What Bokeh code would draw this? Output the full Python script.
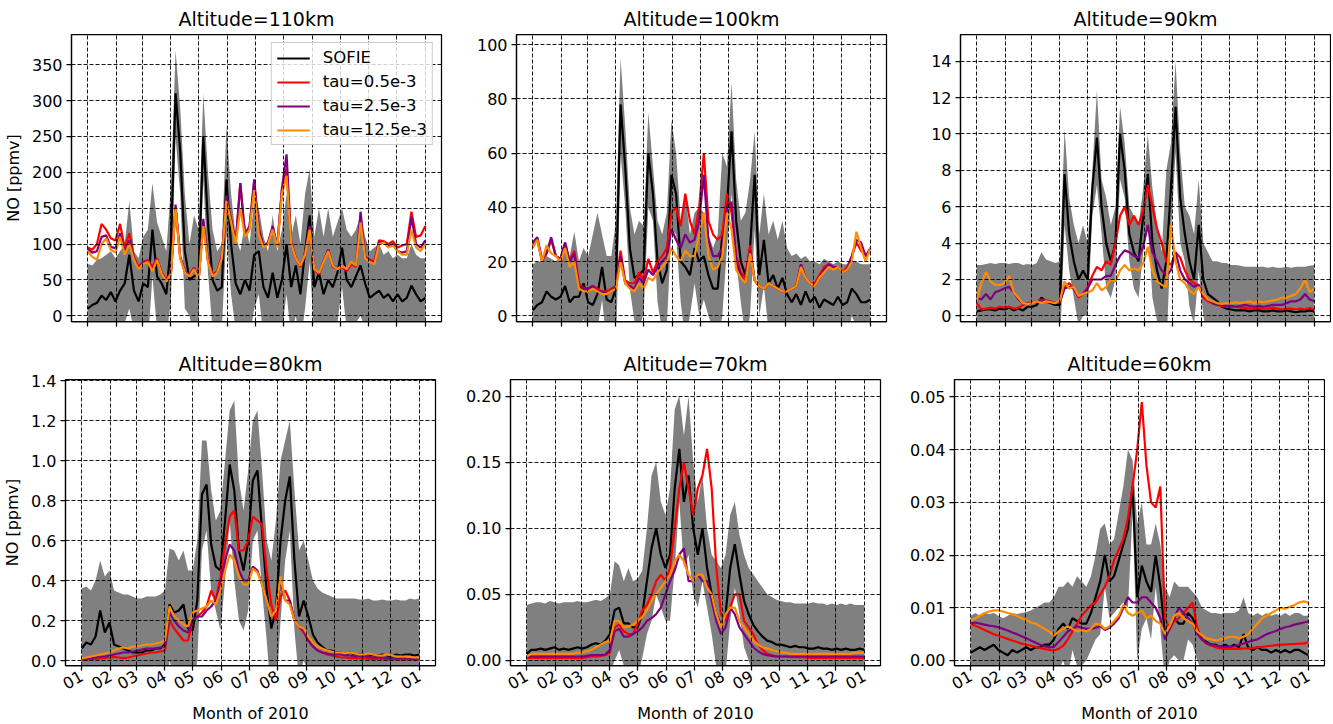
import math
from bokeh.plotting import figure
from bokeh.layouts import column, row
from bokeh.models import FixedTicker, PrintfTickFormatter, Range1d
from bokeh.embed import file_html
from bokeh.resources import INLINE

FONT = "DejaVu Sans"

# day of year 2010 (sampled every 5 days, 0 = 1 Jan 2010, 365 = 1 Jan 2011)
days = list(range(0, 366, 5))
month_ticks = [0, 31, 59, 90, 120, 151, 181, 212, 243, 273, 304, 334, 365]
month_labels = ["01", "02", "03", "04", "05", "06", "07", "08", "09", "10", "11", "12", "01"]
series_names = ["SOFIE", "tau=0.5e-3", "tau=2.5e-3", "tau=12.5e-3"]

# ---------------- 110 km ----------------
sofie_110 = [10, 15, 18, 28, 22, 33, 20, 35, 45, 85,
             35, 20, 45, 40, 120, 55, 45, 30, 100, 310,
             230, 90, 50, 55, 60, 250, 130, 50, 35, 40,
             190, 100, 45, 30, 50, 35, 85, 90, 40, 25,
             60, 25, 50, 100, 40, 70, 30, 90, 140, 40,
             60, 30, 50, 40, 60, 95, 50, 40, 55, 70,
             45, 25, 30, 35, 25, 30, 20, 30, 20, 25,
             42, 30, 20, 25]
tau05_110 = [95, 92, 100, 128, 120, 108, 105, 128, 95, 115,
             82, 68, 75, 78, 68, 80, 60, 50, 60, 150,
             82, 62, 57, 67, 52, 130, 78, 57, 62, 82,
             165, 135, 102, 185, 112, 125, 185, 122, 97, 102,
             122, 97, 175, 205, 102, 80, 68, 85, 125, 64,
             58, 75, 92, 68, 65, 68, 62, 72, 68, 135,
             82, 78, 76, 105, 104, 100, 104, 95, 98, 100,
             145, 110, 112, 125]
tau25_110 = [93, 88, 90, 110, 112, 96, 94, 115, 88, 105,
             80, 66, 74, 76, 64, 79, 58, 48, 59, 155,
             82, 61, 56, 66, 51, 135, 77, 56, 61, 82,
             168, 133, 101, 185, 112, 125, 190, 120, 96, 102,
             125, 97, 178, 225, 102, 80, 70, 86, 125, 65,
             60, 76, 92, 70, 66, 70, 64, 74, 70, 145,
             81, 76, 74, 103, 102, 97, 100, 90, 88, 90,
             138, 100, 95, 105]
tau125_110 = [90, 82, 78, 100, 108, 92, 88, 110, 85, 100,
              78, 65, 72, 75, 62, 78, 58, 48, 58, 150,
              80, 60, 55, 65, 50, 125, 75, 55, 60, 80,
              160, 130, 100, 150, 110, 120, 175, 113, 95, 100,
              120, 95, 170, 195, 100, 80, 70, 85, 120, 65,
              60, 75, 90, 70, 65, 70, 65, 75, 70, 130,
              80, 75, 72, 100, 102, 95, 98, 90, 85, 85,
              120, 95, 90, 100]
hi_110 = [72, 70, 78, 80, 85, 90, 80, 90, 100, 160,
          90, 80, 110, 120, 185, 130, 110, 90, 180, 370,
          290, 170, 100, 140, 120, 310, 200, 120, 90, 100,
          265, 170, 110, 90, 130, 100, 160, 150, 110, 90,
          140, 90, 120, 170, 110, 140, 100, 170, 205, 110,
          150, 110, 150, 110, 130, 150, 120, 110, 120, 140,
          110, 90, 95, 100, 85, 90, 80, 85, 80, 80,
          100, 85, 80, 80]
lo_110 = [-50, -40, -42, -24, -41, -24, -40, -20, -10, 10,
          -20, -40, -20, -40, 55, -20, -20, -30, 20, 250,
          170, 10, 0, -30, 0, 190, 60, -20, -20, -20,
          115, 30, -20, -30, -30, -30, 10, 30, -30, -40,
          -20, -40, -20, 30, -30, 0, -40, 10, 75, -30,
          -30, -50, -50, -30, -10, 40, -20, -30, -10, 0,
          -20, -40, -35, -30, -35, -30, -40, -25, -40, -30,
          -16, -25, -40, -30]

# ---------------- 100 km ----------------
sofie_100 = [2, 4, 5, 9, 7, 6, 7, 11, 5, 7,
             7, 12, 5, 4, 8, 18, 6, 5, 10, 78,
             55, 25, 14, 15, 17, 60, 45, 20, 12, 17,
             52, 45, 20, 18, 15, 25, 20, 22, 15, 10,
             10, 30, 40, 68, 35, 20, 15, 25, 52, 15,
             28, 12, 15, 10, 14, 8, 5, 8, 4, 9,
             5, 7, 3, 6, 5, 4, 7, 4, 5, 10,
             8, 5, 5, 6]
tau05_100 = [26, 28, 20, 23, 28, 22, 21, 27, 20, 24,
             12, 10, 10, 11, 10, 9, 9, 10, 11, 24,
             13, 12, 12, 16, 13, 21, 16, 20, 22, 25,
             38, 40, 33, 45, 35, 30, 40, 60, 35, 30,
             28, 30, 45, 38, 22, 16, 14, 26, 13, 11,
             10, 12, 11, 10, 9, 9, 10, 11, 19, 14,
             12, 12, 15, 18, 19, 18, 18, 16, 18, 22,
             27, 24, 22, 24]
tau25_100 = [27, 29, 21, 23, 29, 22, 21, 27, 20, 23,
             11, 10, 10, 11, 9, 9, 8, 9, 11, 22,
             12, 11, 10, 14, 12, 17, 15, 18, 20, 22,
             32, 28, 25, 30, 27, 28, 35, 52, 28, 22,
             22, 25, 40, 42, 20, 15, 12, 24, 13, 11,
             10, 12, 11, 10, 9, 9, 10, 11, 19, 14,
             12, 11, 14, 17, 19, 18, 18, 16, 17, 22,
             28, 27, 22, 25]
tau125_100 = [25, 28, 20, 26, 23, 22, 20, 25, 18, 20,
              10, 9, 9, 10, 9, 8, 8, 9, 10, 20,
              12, 10, 9, 12, 10, 14, 13, 16, 18, 20,
              25, 22, 20, 24, 22, 22, 30, 38, 22, 17,
              18, 22, 38, 32, 17, 14, 12, 23, 13, 11,
              10, 12, 11, 10, 9, 9, 10, 11, 18, 14,
              12, 11, 14, 16, 18, 17, 18, 16, 17, 20,
              31, 25, 20, 25]
hi_100 = [19, 20, 20, 22, 21, 20, 22, 25, 22, 31,
          20, 25, 22, 30, 38, 30, 22, 22, 35, 95,
          70, 40, 30, 35, 33, 75, 55, 35, 30, 38,
          72, 60, 35, 45, 30, 38, 40, 38, 30, 25,
          30, 60, 55, 86, 50, 35, 38, 50, 68, 30,
          45, 30, 35, 28, 35, 25, 22, 23, 21, 22,
          20, 20, 19, 21, 20, 19, 20, 19, 19, 20,
          20, 19, 19, 19]
lo_100 = [-15, -12, -10, -4, -7, -8, -8, -3, -12, -17,
          -6, -1, -12, -22, -5, 6, -10, -12, -15, 60,
          40, 10, -2, -5, 1, 40, 35, 5, -6, -4,
          32, 30, 5, -9, 0, 12, 0, 6, 0, -5,
          -10, 0, 25, 45, 20, 5, -8, 0, 32, 0,
          11, -6, -5, -8, -7, -9, -12, -7, -13, -4,
          -10, -6, -13, -9, -10, -11, -6, -11, -9, 0,
          -4, -9, -9, -7]

# ---------------- 90 km ----------------
sofie_90 = [0.25, 0.3, 0.35, 0.35, 0.3, 0.4, 0.35, 0.45, 0.3, 0.4,
            0.3, 0.5, 0.5, 0.6, 1.0, 0.8, 0.7, 0.6, 0.6, 7.8,
            4.5, 3.0, 2.0, 2.5, 2.0, 7.0, 9.8, 6.0, 4.0, 3.0,
            4.0, 10.0, 8.0, 4.5, 3.5, 3.0, 5.5, 7.8, 4.0, 2.5,
            1.5, 3.0, 7.0, 11.5, 6.5, 4.5, 3.0, 2.0, 5.0, 2.0,
            1.2, 1.0, 0.8, 0.5, 0.4, 0.35, 0.3, 0.3, 0.3, 0.25,
            0.3, 0.3, 0.25, 0.25, 0.3, 0.25, 0.25, 0.3, 0.25, 0.2,
            0.25, 0.25, 0.3, 0.25]
tau05_90 = [0.7, 0.35, 0.4, 0.45, 0.4, 0.5, 0.45, 0.5, 0.4, 0.45,
            0.6, 0.7, 0.75, 0.8, 0.9, 0.85, 0.8, 0.7, 0.75, 1.6,
            1.8, 1.5, 1.0, 1.2, 1.6, 2.2, 2.7, 2.5, 3.0, 2.8,
            4.0, 5.5, 6.0, 5.0, 5.5, 5.0, 5.8, 7.2, 6.0, 4.8,
            4.0, 3.0, 2.8, 3.5, 3.2, 2.5, 2.0, 1.8, 1.7, 1.0,
            0.8, 0.7, 0.6, 0.55, 0.5, 0.5, 0.5, 0.45, 0.45, 0.4,
            0.4, 0.45, 0.4, 0.4, 0.45, 0.4, 0.35, 0.4, 0.4, 0.35,
            0.4, 0.35, 0.45, 0.35]
tau25_90 = [1.0, 0.9, 1.2, 0.9, 1.3, 1.4, 1.5, 1.6, 1.3, 0.9,
            0.7, 0.65, 0.7, 0.8, 0.85, 0.8, 0.75, 0.7, 0.8, 1.5,
            1.6, 1.5, 1.1, 1.2, 1.5, 2.0, 2.0, 2.0, 2.2, 2.2,
            2.8, 3.3, 3.6, 3.5, 3.3, 3.2, 3.8, 5.0, 3.5, 3.0,
            2.5, 2.2, 2.5, 3.5, 2.5, 2.0, 1.8, 1.6, 1.7, 1.1,
            0.9, 0.7, 0.6, 0.6, 0.55, 0.55, 0.5, 0.55, 0.6, 0.55,
            0.5, 0.55, 0.5, 0.55, 0.6, 0.6, 0.6, 0.7, 0.8, 0.8,
            0.9, 1.2, 0.9, 0.8]
tau125_90 = [0.8, 1.8, 2.4, 1.9, 1.7, 1.7, 1.8, 2.2, 1.3, 1.0,
             0.7, 0.65, 0.7, 0.8, 0.7, 0.8, 0.75, 0.7, 0.85, 1.9,
             1.5, 1.6, 1.1, 1.2, 1.3, 1.4, 1.8, 1.4, 1.6, 2.0,
             1.9, 2.5, 2.8, 2.5, 2.6, 2.5, 2.9, 3.8, 2.5, 1.9,
             1.7, 1.6, 5.0, 3.0, 2.0, 1.8, 1.4, 1.2, 1.6, 1.2,
             0.9, 0.8, 0.7, 0.65, 0.7, 0.7, 0.75, 0.7, 0.75, 0.8,
             0.7, 0.8, 0.75, 0.8, 0.85, 0.9, 1.0, 1.0, 1.1, 1.2,
             1.5, 2.0, 1.3, 1.5]
hi_90 = [2.8, 2.8, 2.85, 2.9, 2.85, 2.9, 2.9, 2.85, 2.9, 2.9,
         2.8, 2.85, 2.8, 2.9, 3.5, 3.1, 3.0, 2.9, 3.0, 10.3,
         6.5, 5.0, 4.0, 5.0, 4.0, 8.0, 12.4, 7.5, 6.5, 5.0,
         6.0, 11.5, 9.5, 6.0, 5.5, 5.0, 7.0, 10.0, 7.0, 5.0,
         3.5, 8.0, 9.5, 14.0, 9.0, 6.0, 5.5, 4.5, 7.5, 4.0,
         3.5, 3.0, 3.0, 2.9, 2.9, 2.8, 2.8, 2.75, 2.7, 2.7,
         2.7, 2.7, 2.7, 2.65, 2.7, 2.65, 2.65, 2.7, 2.65, 2.7,
         2.7, 2.7, 2.75, 2.8]
lo_90 = [-2.3, -2.2, -2.15, -2.2, -2.25, -2.1, -2.2, -1.95, -2.3, -2.1,
         -2.2, -1.85, -1.8, -1.7, -1.5, -1.5, -1.6, -1.7, -1.8, 5.0,
         2.5, 1.0, -0.5, 0.0, 0.0, 5.5, 7.2, 4.5, 1.5, 1.0,
         2.0, 7.5, 6.5, 3.0, 1.5, 1.0, 3.5, 5.0, 1.0, -0.3,
         -0.5, -2.0, 4.5, 9.0, 4.0, 3.0, 0.5, -0.5, 2.5, 0.0,
         -1.1, -1.0, -1.4, -1.9, -2.1, -2.1, -2.2, -2.15, -2.1, -2.2,
         -2.1, -2.1, -2.2, -2.15, -2.1, -2.15, -2.15, -2.1, -2.15, -2.3,
         -2.2, -2.2, -2.15, -2.3]

# ---------------- 80 km ----------------
sofie_80 = [0.06, 0.09, 0.08, 0.12, 0.25, 0.14, 0.19, 0.08, 0.07, 0.06,
            0.05, 0.04, 0.04, 0.04, 0.05, 0.05, 0.06, 0.06, 0.08, 0.28,
            0.24, 0.25, 0.28, 0.16, 0.15, 0.3, 0.83, 0.88, 0.58, 0.47,
            0.45, 0.7, 0.98, 0.85, 0.55, 0.45, 0.6, 0.9, 0.95, 0.65,
            0.35, 0.16, 0.25, 0.6, 0.8, 0.92, 0.5, 0.22, 0.3, 0.22,
            0.13, 0.09, 0.07, 0.05, 0.05, 0.04, 0.04, 0.03, 0.04, 0.03,
            0.03, 0.03, 0.03, 0.025, 0.025, 0.03, 0.025, 0.02, 0.03, 0.025,
            0.03, 0.03, 0.025, 0.03]
tau05_80 = [0.005, 0.005, 0.006, 0.008, 0.01, 0.012, 0.015, 0.018, 0.015, 0.012,
            0.015, 0.02, 0.025, 0.03, 0.035, 0.04, 0.04, 0.045, 0.05, 0.2,
            0.16, 0.13, 0.1, 0.1, 0.2, 0.22, 0.24, 0.27, 0.35, 0.3,
            0.42, 0.58, 0.72, 0.75, 0.55, 0.55, 0.6, 0.72, 0.7, 0.68,
            0.45, 0.28, 0.2, 0.32, 0.35, 0.3, 0.2, 0.17, 0.14, 0.1,
            0.07, 0.05, 0.04, 0.03, 0.025, 0.02, 0.015, 0.015, 0.012, 0.012,
            0.01, 0.01, 0.008, 0.008, 0.007, 0.007, 0.006, 0.006, 0.005, 0.005,
            0.005, 0.005, 0.005, 0.005]
tau25_80 = [0.005, 0.008, 0.01, 0.015, 0.018, 0.02, 0.025, 0.03, 0.035, 0.04,
            0.04, 0.045, 0.05, 0.055, 0.06, 0.06, 0.06, 0.065, 0.07, 0.24,
            0.2, 0.17, 0.15, 0.14, 0.2, 0.22, 0.22, 0.25, 0.27, 0.3,
            0.38, 0.5, 0.58, 0.55, 0.45, 0.4, 0.4, 0.47, 0.45, 0.38,
            0.3, 0.22, 0.25, 0.4, 0.3, 0.3, 0.2, 0.17, 0.15, 0.1,
            0.07, 0.05, 0.04, 0.035, 0.03, 0.03, 0.03, 0.025, 0.025, 0.02,
            0.02, 0.02, 0.018, 0.015, 0.015, 0.015, 0.012, 0.012, 0.01, 0.01,
            0.01, 0.008, 0.008, 0.008]
tau125_80 = [0.01, 0.015, 0.02, 0.025, 0.03, 0.035, 0.04, 0.05, 0.06, 0.065,
             0.06, 0.07, 0.07, 0.075, 0.08, 0.08, 0.085, 0.09, 0.1, 0.27,
             0.22, 0.2, 0.18, 0.17, 0.24, 0.25, 0.26, 0.27, 0.3, 0.28,
             0.35, 0.45, 0.53, 0.5, 0.42, 0.38, 0.38, 0.46, 0.44, 0.38,
             0.3, 0.22, 0.25, 0.42, 0.3, 0.28, 0.2, 0.17, 0.16, 0.12,
             0.09, 0.07, 0.06, 0.05, 0.045, 0.04, 0.04, 0.035, 0.04, 0.035,
             0.03, 0.03, 0.035, 0.03, 0.025, 0.025, 0.03, 0.025, 0.02, 0.02,
             0.02, 0.018, 0.015, 0.015]
hi_80 = [0.36, 0.37, 0.35, 0.4, 0.5, 0.42, 0.45, 0.35, 0.34, 0.33,
         0.33, 0.32, 0.31, 0.31, 0.32, 0.32, 0.32, 0.33, 0.35, 0.56,
         0.55, 0.5, 0.55, 0.45, 0.45, 0.6, 1.1, 1.1, 0.85, 0.7,
         0.75, 1.0, 1.25, 1.3, 0.9, 0.75, 0.95, 1.2, 1.25, 0.95,
         0.6, 0.5, 0.7, 1.0, 1.1, 1.2, 0.85, 0.55, 0.6, 0.5,
         0.4, 0.36, 0.34, 0.33, 0.32, 0.31, 0.31, 0.31, 0.31, 0.31,
         0.305, 0.305, 0.31, 0.3, 0.3, 0.305, 0.3, 0.3, 0.305, 0.3,
         0.3, 0.31, 0.305, 0.31]
lo_80 = [-0.24, -0.19, -0.19, -0.16, -0.05, -0.14, -0.09, -0.19, -0.2, -0.21,
         -0.23, -0.24, -0.23, -0.23, -0.22, -0.22, -0.2, -0.21, -0.19, 0.0,
         -0.1, -0.05, -0.05, -0.13, -0.15, 0.0, 0.55, 0.65, 0.35, 0.25,
         0.15, 0.4, 0.7, 0.4, 0.2, 0.15, 0.25, 0.6, 0.65, 0.35,
         0.1, -0.2, -0.2, 0.2, 0.5, 0.65, 0.15, -0.1, 0.0, -0.06,
         -0.14, -0.18, -0.2, -0.23, -0.22, -0.23, -0.23, -0.25, -0.23, -0.25,
         -0.245, -0.245, -0.25, -0.25, -0.25, -0.245, -0.25, -0.26, -0.245, -0.25,
         -0.24, -0.25, -0.255, -0.25]

# ---------------- 70 km ----------------
sofie_70 = [0.005, 0.008, 0.008, 0.009, 0.008, 0.009, 0.01, 0.008, 0.009, 0.008,
            0.009, 0.01, 0.009, 0.01, 0.012, 0.013, 0.012, 0.015, 0.02, 0.038,
            0.04, 0.028, 0.028, 0.025, 0.025, 0.035, 0.06, 0.085, 0.1, 0.08,
            0.07, 0.08, 0.13, 0.16, 0.12, 0.14, 0.1, 0.08, 0.1, 0.07,
            0.05, 0.035, 0.027, 0.035, 0.07, 0.088, 0.065, 0.045, 0.035, 0.027,
            0.022, 0.018, 0.015, 0.014, 0.012, 0.012, 0.011, 0.01, 0.011, 0.01,
            0.01, 0.009, 0.009, 0.01, 0.009, 0.009, 0.008, 0.009, 0.008, 0.009,
            0.008, 0.008, 0.009, 0.008]
tau05_70 = [0.002, 0.002, 0.002, 0.002, 0.002, 0.002, 0.002, 0.002, 0.002, 0.002,
            0.002, 0.002, 0.002, 0.0025, 0.003, 0.003, 0.0035, 0.004, 0.006, 0.025,
            0.027, 0.022, 0.02, 0.02, 0.028, 0.038, 0.042, 0.05, 0.06, 0.065,
            0.06, 0.07, 0.1, 0.13, 0.15, 0.13, 0.11, 0.13, 0.14, 0.16,
            0.13, 0.07, 0.035, 0.03, 0.04, 0.05, 0.05, 0.03, 0.025, 0.02,
            0.012, 0.008, 0.005, 0.004, 0.003, 0.003, 0.003, 0.0025, 0.0025, 0.0025,
            0.0025, 0.002, 0.002, 0.002, 0.002, 0.002, 0.002, 0.002, 0.002, 0.002,
            0.002, 0.002, 0.002, 0.002]
tau25_70 = [0.003, 0.003, 0.003, 0.003, 0.003, 0.003, 0.003, 0.003, 0.003, 0.003,
            0.003, 0.003, 0.003, 0.0035, 0.004, 0.004, 0.004, 0.0045, 0.008, 0.022,
            0.024, 0.018, 0.018, 0.02, 0.022, 0.025, 0.03, 0.032, 0.035, 0.04,
            0.05, 0.06, 0.068, 0.08, 0.085, 0.06, 0.06, 0.065, 0.06, 0.06,
            0.045, 0.03, 0.02, 0.025, 0.04, 0.035, 0.025, 0.02, 0.015, 0.01,
            0.007, 0.005, 0.004, 0.0035, 0.003, 0.003, 0.003, 0.003, 0.003, 0.003,
            0.003, 0.003, 0.003, 0.003, 0.003, 0.003, 0.003, 0.003, 0.003, 0.003,
            0.003, 0.003, 0.003, 0.003]
tau125_70 = [0.003, 0.005, 0.005, 0.005, 0.005, 0.005, 0.005, 0.005, 0.005, 0.005,
             0.005, 0.006, 0.006, 0.007, 0.008, 0.01, 0.012, 0.014, 0.015, 0.03,
             0.03, 0.025, 0.026, 0.027, 0.03, 0.033, 0.038, 0.045, 0.05, 0.055,
             0.06, 0.065, 0.075, 0.08, 0.075, 0.065, 0.06, 0.065, 0.065, 0.055,
             0.05, 0.035, 0.025, 0.035, 0.04, 0.04, 0.03, 0.025, 0.02, 0.015,
             0.012, 0.01, 0.009, 0.008, 0.007, 0.006, 0.006, 0.005, 0.005, 0.005,
             0.005, 0.005, 0.005, 0.005, 0.005, 0.005, 0.005, 0.005, 0.005, 0.005,
             0.005, 0.006, 0.006, 0.006]
hi_70 = [0.042, 0.043, 0.044, 0.044, 0.043, 0.045, 0.044, 0.043, 0.044, 0.044,
         0.044, 0.045, 0.044, 0.044, 0.045, 0.046, 0.045, 0.047, 0.05, 0.075,
         0.072, 0.06, 0.07, 0.06, 0.062, 0.068, 0.1, 0.14, 0.15, 0.12,
         0.11, 0.13, 0.19, 0.2, 0.17, 0.2, 0.15, 0.12, 0.14, 0.1,
         0.08, 0.075, 0.07, 0.08, 0.11, 0.12, 0.095, 0.08, 0.07, 0.065,
         0.06, 0.055, 0.05, 0.048, 0.046, 0.045, 0.044, 0.044, 0.043, 0.043,
         0.043, 0.043, 0.044, 0.043, 0.043, 0.042, 0.043, 0.042, 0.043, 0.042,
         0.043, 0.042, 0.042, 0.042]
lo_70 = [-0.032, -0.027, -0.028, -0.026, -0.027, -0.027, -0.024, -0.027, -0.026, -0.028,
         -0.026, -0.025, -0.026, -0.024, -0.021, -0.02, -0.021, -0.017, -0.01, 0.0,
         0.008, -0.004, -0.014, -0.01, -0.012, 0.002, 0.02, 0.03, 0.05, 0.04,
         0.03, 0.03, 0.07, 0.12, 0.07, 0.08, 0.05, 0.04, 0.06, 0.04,
         0.02, -0.005, -0.016, -0.01, 0.03, 0.055, 0.035, 0.01, 0.0, -0.011,
         -0.016, -0.019, -0.02, -0.02, -0.022, -0.021, -0.022, -0.024, -0.021, -0.023,
         -0.023, -0.025, -0.026, -0.023, -0.025, -0.024, -0.027, -0.024, -0.027, -0.024,
         -0.027, -0.026, -0.024, -0.026]

# ---------------- 60 km ----------------
sofie_60 = [0.0015, 0.002, 0.0025, 0.002, 0.0025, 0.003, 0.002, 0.0015, 0.001, 0.002,
            0.0015, 0.002, 0.0025, 0.002, 0.0025, 0.0025, 0.003, 0.003, 0.004, 0.006,
            0.007, 0.006, 0.008, 0.0075, 0.007, 0.007, 0.009, 0.012, 0.015, 0.02,
            0.015, 0.016, 0.019, 0.022, 0.025, 0.033, 0.012, 0.018, 0.015, 0.013,
            0.02, 0.014, 0.005, 0.006, 0.008, 0.007, 0.007, 0.009, 0.008, 0.006,
            0.004, 0.0035, 0.003, 0.003, 0.0025, 0.003, 0.0025, 0.003, 0.0025, 0.005,
            0.0025, 0.002, 0.0025, 0.002, 0.002, 0.0015, 0.002, 0.0015, 0.002, 0.0015,
            0.002, 0.002, 0.0015, 0.001]
tau05_60 = [0.007, 0.0066, 0.0062, 0.0058, 0.0054, 0.005, 0.0047, 0.0044, 0.0041, 0.0038,
            0.0035, 0.0032, 0.003, 0.0028, 0.0026, 0.0024, 0.0022, 0.002, 0.0019, 0.0022,
            0.0028, 0.004, 0.0055, 0.007, 0.0085, 0.0095, 0.0105, 0.011, 0.0125, 0.014,
            0.016, 0.019, 0.021, 0.023, 0.027, 0.033, 0.04, 0.049, 0.037, 0.03,
            0.029, 0.033, 0.008, 0.006, 0.0075, 0.008, 0.009, 0.01, 0.011, 0.006,
            0.004, 0.0032, 0.0028, 0.0025, 0.0023, 0.0022, 0.0022, 0.0022, 0.0022, 0.0023,
            0.0023, 0.0024, 0.0025, 0.0026, 0.0027, 0.0028, 0.0029, 0.003, 0.003, 0.0031,
            0.0031, 0.0032, 0.0032, 0.0035]
tau25_60 = [0.007, 0.0072, 0.007, 0.0068, 0.0066, 0.0065, 0.0063, 0.006, 0.0057, 0.0053,
            0.005, 0.0046, 0.0042, 0.0038, 0.0034, 0.003, 0.0027, 0.0025, 0.0026, 0.0035,
            0.0045, 0.0055, 0.006, 0.0065, 0.0062, 0.006, 0.006, 0.0062, 0.0065, 0.0058,
            0.0062, 0.007, 0.008, 0.01, 0.012, 0.011, 0.011, 0.012, 0.012, 0.011,
            0.01, 0.008, 0.004, 0.006, 0.008, 0.01, 0.009, 0.008, 0.007, 0.005,
            0.004, 0.0033, 0.003, 0.0028, 0.0027, 0.0026, 0.0026, 0.0027, 0.003, 0.0032,
            0.0035, 0.0038, 0.004, 0.0045, 0.005, 0.0053, 0.0056, 0.006, 0.0063, 0.0065,
            0.0068, 0.007, 0.0072, 0.0074]
tau125_60 = [0.0075, 0.008, 0.0085, 0.009, 0.0093, 0.0095, 0.0095, 0.0093, 0.009, 0.0088,
             0.0085, 0.008, 0.0077, 0.0072, 0.007, 0.0065, 0.006, 0.0055, 0.0047, 0.0055,
             0.006, 0.0065, 0.006, 0.0055, 0.0058, 0.0055, 0.006, 0.007, 0.0068, 0.006,
             0.0065, 0.0075, 0.0085, 0.0105, 0.009, 0.0085, 0.009, 0.0095, 0.008, 0.0085,
             0.0075, 0.007, 0.005, 0.0065, 0.0085, 0.009, 0.008, 0.0075, 0.007, 0.0055,
             0.0048, 0.0042, 0.004, 0.0038, 0.004, 0.0042, 0.0045, 0.0045, 0.0042, 0.0045,
             0.005, 0.006, 0.007, 0.008, 0.0085, 0.009, 0.0095, 0.01, 0.0098, 0.0102,
             0.0105, 0.011, 0.0112, 0.011]
hi_60 = [0.0085, 0.009, 0.0085, 0.009, 0.0088, 0.009, 0.0085, 0.008, 0.0085, 0.009,
         0.0088, 0.009, 0.0092, 0.0095, 0.01, 0.0105, 0.011, 0.011, 0.012, 0.014,
         0.014, 0.015, 0.014, 0.016, 0.015, 0.014, 0.016, 0.02, 0.025, 0.026,
         0.022, 0.023, 0.028, 0.033, 0.04, 0.038, 0.026, 0.03, 0.022, 0.022,
         0.026, 0.022, 0.014, 0.012, 0.015, 0.014, 0.014, 0.014, 0.013, 0.012,
         0.01, 0.0095, 0.009, 0.009, 0.0088, 0.009, 0.009, 0.009, 0.0095, 0.012,
         0.009, 0.0085, 0.009, 0.0085, 0.009, 0.0085, 0.0088, 0.0085, 0.009, 0.0085,
         0.009, 0.009, 0.0085, 0.0085]
lo_60 = [-0.0055, -0.005, -0.0035, -0.005, -0.0038, -0.003, -0.0045, -0.005, -0.0065, -0.005,
         -0.0058, -0.005, -0.0042, -0.0055, -0.005, -0.0055, -0.005, -0.005, -0.004, -0.002,
         0.0, -0.003, 0.002, -0.001, -0.001, 0.0, 0.002, 0.004, 0.005, 0.014,
         0.008, 0.009, 0.01, 0.011, 0.01, 0.028, 0.0, 0.006, 0.008, 0.004,
         0.014, 0.006, -0.004, 0.0, 0.001, 0.0, 0.0, 0.004, 0.003, 0.0,
         -0.002, -0.0025, -0.003, -0.003, -0.0038, -0.003, -0.004, -0.003, -0.0045, -0.002,
         -0.004, -0.0045, -0.004, -0.0045, -0.005, -0.0055, -0.0048, -0.0055, -0.005, -0.0055,
         -0.005, -0.005, -0.0055, -0.0065]

panels = [
    ("Altitude=110km", sofie_110, tau05_110, tau25_110, tau125_110, lo_110, hi_110,
     (-8, 392), [0, 50, 100, 150, 200, 250, 300, 350], "%d"),
    ("Altitude=100km", sofie_100, tau05_100, tau25_100, tau125_100, lo_100, hi_100,
     (-2.1, 103.7), [0, 20, 40, 60, 80, 100], "%d"),
    ("Altitude=90km", sofie_90, tau05_90, tau25_90, tau125_90, lo_90, hi_90,
     (-0.31, 15.47), [0, 2, 4, 6, 8, 10, 12, 14], "%d"),
    ("Altitude=80km", sofie_80, tau05_80, tau25_80, tau125_80, lo_80, hi_80,
     (-0.025, 1.405), [0.0, 0.2, 0.4, 0.6, 0.8, 1.0, 1.2, 1.4], "%.1f"),
    ("Altitude=70km", sofie_70, tau05_70, tau25_70, tau125_70, lo_70, hi_70,
     (-0.0038, 0.2125), [0.0, 0.05, 0.10, 0.15, 0.20], "%.2f"),
    ("Altitude=60km", sofie_60, tau05_60, tau25_60, tau125_60, lo_60, hi_60,
     (-0.00095, 0.0533), [0.0, 0.01, 0.02, 0.03, 0.04, 0.05], "%.2f"),
]

colors = ["black", "#ff0000", "#800080", "#ff8c00"]
LEFT = [65, 70, 70]
RIGHT = [5, 4, 1]

figs = []
for i, (title, s, r, pu, o, lo, hi, yr, yt, fmt) in enumerate(panels):
    c = i % 3
    rw = i // 3
    if rw == 0:
        top, bottom, fh = 25, 10, 287
    else:
        top, bottom, fh = 48, 60, 286
    p = figure(frame_width=370, frame_height=fh,
               min_border_left=LEFT[c], min_border_right=RIGHT[c],
               min_border_top=top, min_border_bottom=bottom,
               x_range=Range1d(-17.5, 382.5), y_range=Range1d(yr[0], yr[1]),
               output_backend="svg", toolbar_location=None, title=title)
    p.title.text_font = FONT
    p.title.text_font_size = "19px"
    p.title.text_font_style = "normal"
    p.title.text_color = "black"
    p.title.align = "center"
    p.outline_line_color = "black"
    p.outline_line_width = 1.25
    p.outline_line_alpha = 1.0

    p.varea(x=days, y1=lo, y2=hi, fill_color="#808080", fill_alpha=1.0)
    for k, (ys, col) in enumerate(zip([s, r, pu, o], colors)):
        kw = {}
        if i == 0:
            kw["legend_label"] = series_names[k]
        p.line(days, ys, line_color=col, line_width=2.2, **kw)

    p.xaxis.ticker = FixedTicker(ticks=month_ticks)
    if rw == 0:
        p.xaxis.major_label_overrides = {t: "" for t in month_ticks}
    else:
        p.xaxis.major_label_overrides = {t: lab for t, lab in zip(month_ticks, month_labels)}
        p.xaxis.major_label_orientation = math.pi / 6
        p.xaxis.axis_label = "Month of 2010"
    p.yaxis.ticker = FixedTicker(ticks=yt)
    p.yaxis.formatter = PrintfTickFormatter(format=fmt)
    if c == 0:
        p.yaxis.axis_label = "NO [ppmv]"

    for ax in (p.xaxis[0], p.yaxis[0]):
        ax.major_label_text_font = FONT
        ax.major_label_text_font_size = "16px"
        ax.major_label_text_color = "black"
        ax.axis_label_text_font = FONT
        ax.axis_label_text_font_size = "16px"
        ax.axis_label_text_font_style = "normal"
        ax.axis_label_text_color = "black"
        ax.axis_line_color = "black"
        ax.axis_line_width = 1.25
        ax.major_tick_line_color = "black"
        ax.major_tick_line_width = 1.25
        ax.major_tick_out = 5
        ax.major_tick_in = 0
        ax.minor_tick_line_color = None
        ax.major_label_standoff = 4
        ax.axis_label_standoff = 6

    for g in (p.xgrid[0], p.ygrid[0]):
        g.grid_line_color = "black"
        g.grid_line_dash = "4 2"
        g.grid_line_width = 1.0
        g.grid_line_alpha = 0.9
        g.level = "annotation"

    if i == 0:
        lg = p.legend[0]
        lg.location = "top_right"
        lg.margin = 8
        lg.padding = 5
        lg.spacing = 5
        lg.label_height = 18
        lg.glyph_height = 18
        lg.glyph_width = 33
        lg.label_standoff = 13
        lg.label_text_font = FONT
        lg.label_text_font_size = "16.5px"
        lg.label_text_color = "black"
        lg.border_line_color = "#cccccc"
        lg.border_line_width = 1
        lg.border_line_alpha = 1.0
        lg.background_fill_alpha = 0.8
    figs.append(p)

layout = column(row(figs[0], figs[1], figs[2]), row(figs[3], figs[4], figs[5]))
open("out.html", "w").write(file_html(layout, INLINE))
